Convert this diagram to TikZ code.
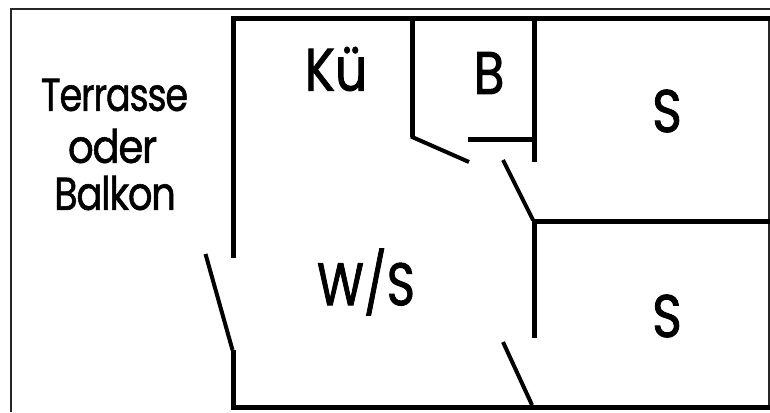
\documentclass[tikz,border=0pt]{standalone}
\usepackage{fontspec}
\setmainfont{Poppins}
\newfontfamily\lblfont[FakeBold=1.6]{Poppins}
\newfontfamily\smallfont[FakeBold=1.3,LetterSpace=-3.5]{Poppins}
\tikzset{
  wall/.style={line width=5pt,line cap=butt,line join=miter},
  doorleaf/.style={line width=4pt,line cap=butt},
  frameline/.style={line width=1.5pt,black!85},
  lbl/.style={inner sep=0pt,anchor=center}
}
\newcommand{\tallS}[3]{\scalebox{#1}[#2]{#3}}
\begin{document}
\begin{tikzpicture}[x=1pt,y=-1pt]
\useasboundingbox (0,0) rectangle (770,412);
\draw[frameline] (11,412) -- (11,9) -- (770,9);
\draw[frameline] (769,19) -- (769,408);
% outer walls
\draw[wall] (233,258) -- (233,19) -- (770,19);
\draw[wall] (233,350) -- (233,407.5) -- (770,407.5);
\draw[doorleaf] (205.5,254) -- (232.5,350);
% kitchen / bath
\draw[wall] (412,19) -- (412,137);
\draw[doorleaf] (411,136.5) -- (469,162);
\draw[wall] (468,139) -- (534,139);
\draw[wall] (534,19) -- (534,162);
\draw[doorleaf] (503,160) -- (533,220);
% bedrooms
\draw[wall] (534,221) -- (770,221);
\draw[wall] (534,219) -- (534,338);
\draw[doorleaf] (503,342) -- (532,405);
% labels
\node[lbl] (terrasse) at (114.5,95) {\fontsize{46}{46}\smallfont\tallS{.8}{1}{Terrasse}};
\node[lbl] (oder) at (112.5,146) {\fontsize{46}{46}\smallfont\tallS{.88}{1}{oder}};
\node[lbl] (balkon) at (115,193) {\fontsize{46}{46}\smallfont\tallS{.84}{1}{Balkon}};
\node[lbl] (kue) at (336,69) {\fontsize{60}{60}\lblfont\tallS{.84}{1}{Kü}};
\node[lbl] (bad) at (489,73) {\fontsize{60}{60}\lblfont\tallS{.84}{1}{B}};
\node[lbl] (s1) at (667,111) {\fontsize{60}{60}\lblfont\tallS{.84}{1}{S}};
\node[lbl] (ws) at (366,282) {\fontsize{60}{60}\lblfont\tallS{.8}{1}{W/S}};
\node[lbl] (s2) at (667,316) {\fontsize{60}{60}\lblfont\tallS{.84}{1}{S}};
\end{tikzpicture}
\end{document}
